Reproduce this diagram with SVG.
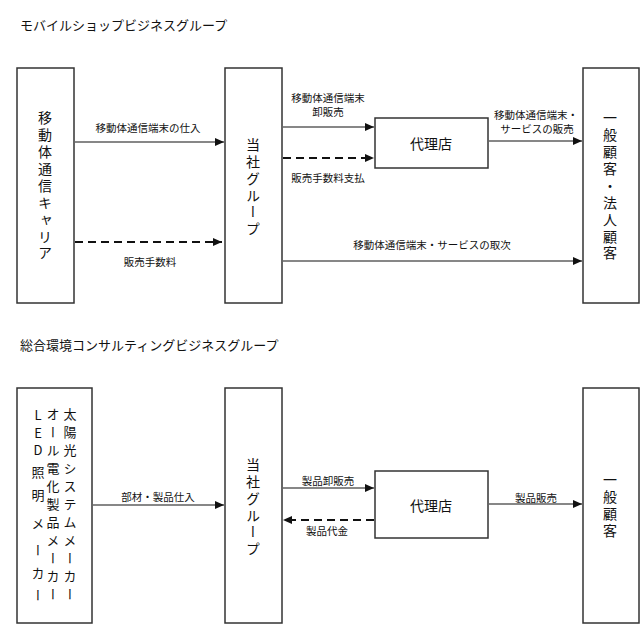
<svg xmlns="http://www.w3.org/2000/svg" width="640" height="640" viewBox="0 0 640 640">
<style>
text{font-family:"Noto Sans CJK JP","Noto Sans",sans-serif;fill:#111}
.title{font-size:13px}
.lbl{font-size:10.5px;text-anchor:middle}
.node{font-size:14px}
.v{writing-mode:vertical-rl;text-orientation:upright;text-anchor:middle}
.box{fill:#fff;stroke:#333;stroke-width:1.5}
.ln{stroke:#111;stroke-width:1.2;fill:none}
.dash{stroke:#111;stroke-width:2;stroke-dasharray:8 5;fill:none}
</style>
<defs>
<marker id="ah" markerUnits="userSpaceOnUse" markerWidth="9" markerHeight="8" refX="9" refY="4" orient="auto">
<path d="M0,0 L9,4 L0,8 z" fill="#111"/>
</marker>
</defs>
<rect width="640" height="640" fill="#fff"/>
<text class="title" x="20" y="30">モバイルショップビジネスグループ</text>
<text class="title" x="20" y="350">総合環境コンサルティングビジネスグループ</text>

<g id="carrier">
<rect class="box" x="17" y="68" width="57" height="235"/>
<text class="node v" x="45" y="118 135 152 169 186 203 220 237 253">移動体通信キャリア</text>
</g>
<g id="company1">
<rect class="box" x="225" y="68" width="57" height="235"/>
<text class="node v" x="253" y="145 162 179 196 212 229">当社グループ</text>
</g>
<g id="agency1">
<rect class="box" x="375" y="118" width="113" height="50"/>
<text class="node" x="431" y="149" text-anchor="middle">代理店</text>
</g>
<g id="customer1">
<rect class="box" x="583" y="68" width="56" height="235"/>
<text class="node v" x="610" y="118 135 152 169 186 203 220 237 253">一般顧客・法人顧客</text>
</g>

<g id="makers">
<rect class="box" x="17" y="388" width="75" height="235"/>
<text class="v" style="font-size:13px" x="70" y="414 432 450 468 486 504 522 540 558 576 594">太陽光システムメーカー</text>
<text class="v" style="font-size:13px" x="53" y="414 432 450 468 486 504 522 540 558 576 594">オール電化製品メーカー</text>
<text class="v" style="font-size:13px" x="38" y="415 433 450 472 495 523 550 573 595">LED照明メーカー</text>
</g>
<g id="company2">
<rect class="box" x="225" y="388" width="57" height="235"/>
<text class="node v" x="253" y="465 482 499 516 532 549">当社グループ</text>
</g>
<g id="agency2">
<rect class="box" x="375" y="471" width="113" height="67"/>
<text class="node" x="431" y="511" text-anchor="middle">代理店</text>
</g>
<g id="customer2">
<rect class="box" x="583" y="388" width="56" height="235"/>
<text class="node v" x="610" y="480 497 514 531">一般顧客</text>
</g>

<g id="connectors">
<line class="ln" x1="75" y1="142" x2="224" y2="142" marker-end="url(#ah)"/>
<line class="dash" x1="75" y1="242" x2="222" y2="242" marker-end="url(#ah)"/>
<line class="ln" x1="283" y1="127" x2="374" y2="127" marker-end="url(#ah)"/>
<line class="dash" x1="283" y1="158" x2="374" y2="158" marker-end="url(#ah)"/>
<line class="ln" x1="489" y1="141" x2="582" y2="141" marker-end="url(#ah)"/>
<line class="ln" x1="283" y1="261" x2="582" y2="261" marker-end="url(#ah)"/>
<line class="ln" x1="93" y1="505" x2="224" y2="505" marker-end="url(#ah)"/>
<line class="ln" x1="283" y1="488" x2="374" y2="488" marker-end="url(#ah)"/>
<line class="dash" x1="374" y1="520" x2="283" y2="520" marker-end="url(#ah)"/>
<line class="ln" x1="489" y1="504" x2="582" y2="504" marker-end="url(#ah)"/>
<text class="lbl" x="148" y="132">移動体通信端末の仕入</text>
<text class="lbl" x="150" y="266">販売手数料</text>
<text class="lbl" x="328" y="102"><tspan x="328" y="102">移動体通信端末</tspan><tspan x="328" y="116">卸販売</tspan></text>
<text class="lbl" x="328" y="182">販売手数料支払</text>
<text class="lbl" x="536" y="119"><tspan x="536" y="119">移動体通信端末・</tspan><tspan x="537" y="133">サービスの販売</tspan></text>
<text class="lbl" x="432" y="249">移動体通信端末・サービスの取次</text>
<text class="lbl" x="158" y="501">部材・製品仕入</text>
<text class="lbl" x="328" y="485">製品卸販売</text>
<text class="lbl" x="327" y="535">製品代金</text>
<text class="lbl" x="536" y="502">製品販売</text>
</g>
</svg>
